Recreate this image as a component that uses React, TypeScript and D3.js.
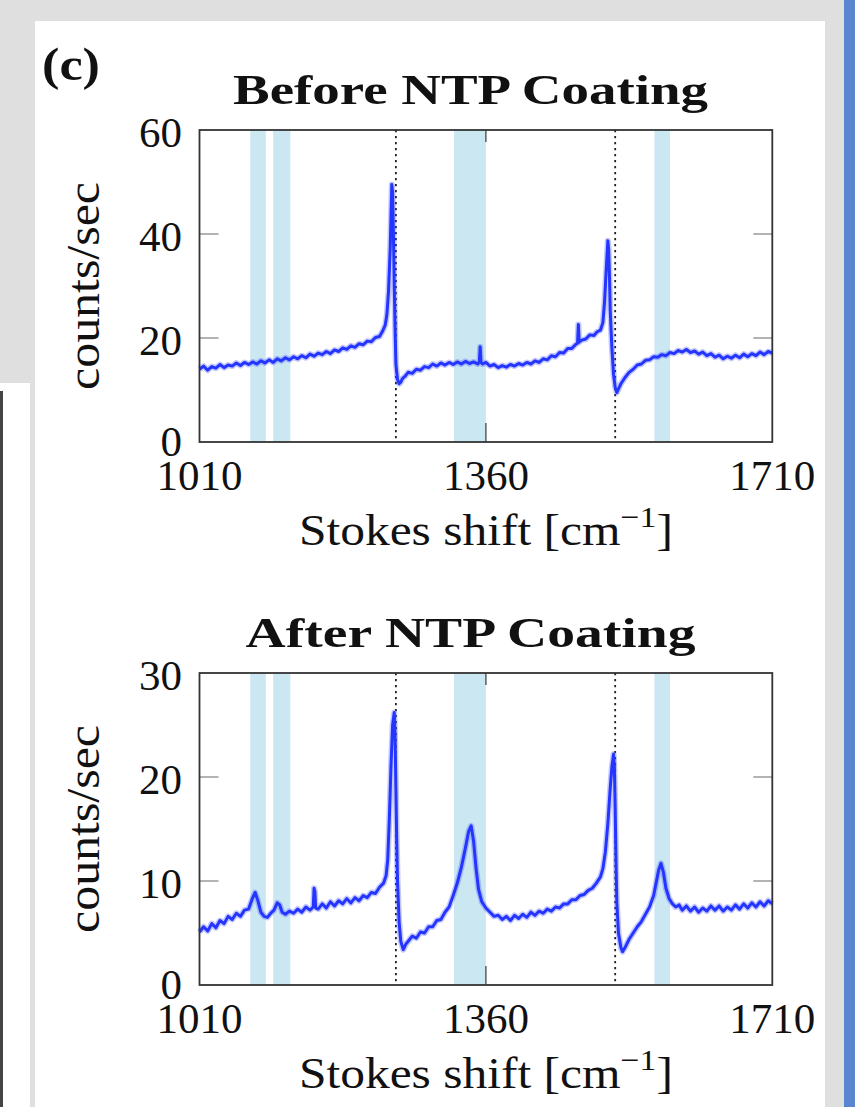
import React from 'react';
import * as d3 from 'd3';

// ---- data ----
const shiftTicks = [1010, 1360, 1710];
const beforeTicks = [0, 20, 40, 60];
const afterTicks = [0, 10, 20, 30];
const bandStarts = [1072, 1100, 1321, 1566];
const bandEnds = [1091, 1121, 1360, 1585];
const markerShifts = [1250, 1518];

const beforeShift = [
  1010, 1015, 1020, 1025, 1030, 1035, 1040, 1045, 1050, 1055, 1060, 1065, 1070, 1075, 1080, 1085, 1090, 1095,
  1100, 1105, 1110, 1115, 1120, 1125, 1130, 1135, 1140, 1145, 1150, 1155, 1160, 1165, 1170, 1175, 1180, 1185,
  1190, 1195, 1200, 1205, 1210, 1215, 1220, 1225, 1230, 1234, 1237, 1239, 1241, 1243, 1245, 1246, 1247, 1248,
  1249, 1250, 1252, 1254, 1256, 1258, 1261, 1265, 1270, 1275, 1280, 1285, 1290, 1295, 1300, 1305, 1310, 1315,
  1320, 1325, 1330, 1335, 1340, 1345, 1350, 1352, 1353, 1354, 1356, 1360, 1365, 1370, 1375, 1380, 1385, 1390,
  1395, 1400, 1405, 1410, 1415, 1420, 1425, 1430, 1435, 1440, 1445, 1450, 1455, 1460, 1465, 1470, 1472, 1473,
  1474, 1477, 1482, 1487, 1492, 1496, 1500, 1503, 1505, 1507, 1509, 1510, 1511, 1512, 1514, 1516, 1518, 1520,
  1522, 1525, 1530, 1535, 1540, 1545, 1550, 1555, 1560, 1565, 1570, 1575, 1580, 1585, 1590, 1595, 1600, 1605,
  1610, 1615, 1620, 1625, 1630, 1635, 1640, 1645, 1650, 1655, 1660, 1665, 1670, 1675, 1680, 1685, 1690, 1695,
  1700, 1705, 1710,
];
const beforeCounts = [
  14.0, 14.6, 13.8, 14.5, 14.2, 14.9, 14.3, 14.8, 14.6, 15.2, 14.7, 15.3, 14.9, 15.4, 15.0, 15.6, 15.2, 15.8,
  15.3, 16.0, 15.6, 16.2, 15.8, 16.4, 16.0, 16.6, 16.2, 16.9, 16.5, 17.1, 16.8, 17.4, 17.0, 17.7, 17.4, 18.1,
  17.8, 18.5, 18.2, 18.9, 18.7, 19.4, 19.3, 20.1, 20.3, 21.4, 22.5, 24.5, 29.0, 37.0, 49.5, 48.0, 40.0, 30.0,
  22.0, 15.0, 12.0, 11.2, 11.5, 12.2, 12.6, 13.4, 13.2, 14.0, 13.8, 14.5, 14.3, 15.0, 14.6, 15.2, 14.8, 15.3,
  14.9, 15.4, 15.0, 15.5, 15.1, 15.4, 15.0, 15.4, 18.3, 15.3, 15.0, 15.3, 14.6, 14.9, 14.3, 14.7, 14.4, 14.9,
  14.6, 15.1, 14.8, 15.3, 15.0, 15.6, 15.3, 16.0, 15.8, 16.6, 16.4, 17.2, 17.1, 18.0, 18.0, 18.8, 19.0, 22.6,
  19.2, 19.6, 19.8, 20.6, 20.5, 21.2, 21.5, 23.0, 27.0, 33.0, 38.7, 37.0, 32.0, 25.0, 18.0, 13.0, 10.5, 9.5,
  10.2, 11.2, 12.4, 13.4, 14.0, 14.8, 15.0, 15.7, 15.8, 16.4, 16.3, 16.8, 16.6, 17.2, 17.0, 17.6, 17.3, 17.8,
  17.2, 17.5, 16.9, 17.3, 16.6, 17.0, 16.3, 16.7, 16.0, 16.5, 16.1, 16.7, 16.2, 16.9, 16.4, 17.0, 16.6, 17.3,
  16.8, 17.4, 17.1,
];

const afterShift = [
  1010, 1015, 1020, 1025, 1030, 1035, 1040, 1045, 1050, 1055, 1060, 1065, 1070, 1074, 1078, 1081, 1085, 1089,
  1093, 1097, 1101, 1105, 1108, 1111, 1115, 1120, 1125, 1130, 1135, 1140, 1145, 1149, 1150, 1151, 1152, 1155,
  1160, 1165, 1170, 1175, 1180, 1185, 1190, 1195, 1200, 1205, 1210, 1215, 1220, 1225, 1230, 1235, 1238, 1240,
  1242, 1244, 1246, 1248, 1249, 1250, 1251, 1252, 1254, 1256, 1259, 1262, 1266, 1270, 1275, 1280, 1285, 1290,
  1295, 1300, 1305, 1310, 1315, 1320, 1325, 1330, 1335, 1339, 1342, 1345, 1348, 1351, 1355, 1360, 1365, 1370,
  1375, 1380, 1385, 1390, 1395, 1400, 1405, 1410, 1415, 1420, 1425, 1430, 1435, 1440, 1445, 1450, 1455, 1460,
  1465, 1470, 1475, 1480, 1485, 1490, 1495, 1500, 1503, 1506, 1509, 1512, 1514, 1516, 1517, 1518, 1519, 1520,
  1522, 1525, 1527, 1530, 1535, 1540, 1545, 1550, 1555, 1560, 1565, 1568, 1571, 1574, 1577, 1580, 1584, 1588,
  1592, 1596, 1600, 1605, 1610, 1615, 1620, 1625, 1630, 1635, 1640, 1645, 1650, 1655, 1660, 1665, 1670, 1675,
  1680, 1685, 1690, 1695, 1700, 1705, 1710,
];
const afterCounts = [
  5.1, 5.6, 5.2, 5.9, 5.5, 6.2, 5.9, 6.6, 6.3, 6.9, 6.6, 7.2, 7.3, 8.2, 8.9, 8.2, 7.0, 6.6,
  6.5, 6.9, 7.2, 7.9, 7.7, 7.0, 6.8, 7.1, 6.9, 7.3, 7.0, 7.5, 7.2, 7.5, 9.3, 9.0, 7.4, 7.3,
  7.8, 7.4, 8.0, 7.6, 8.1, 7.8, 8.3, 7.9, 8.4, 8.1, 8.6, 8.4, 8.9, 8.8, 9.4, 9.8, 10.5, 12.0,
  16.0, 21.0, 25.0, 26.2, 24.0, 19.0, 14.0, 10.0, 6.0, 4.2, 3.4, 3.9, 4.3, 4.7, 4.5, 5.1, 5.0, 5.6,
  5.6, 6.2, 6.3, 7.0, 7.5, 8.6, 9.8, 11.3, 13.2, 14.8, 15.3, 13.8, 11.2, 9.2, 8.0, 7.4, 7.0, 6.6,
  6.7, 6.3, 6.6, 6.2, 6.7, 6.4, 6.8, 6.5, 7.0, 6.7, 7.1, 6.9, 7.3, 7.1, 7.5, 7.4, 7.8, 7.8,
  8.2, 8.2, 8.6, 8.7, 9.1, 9.3, 9.8, 10.4, 11.2, 12.8, 15.5, 19.0, 21.0, 22.2, 21.0, 17.0, 12.0, 8.0,
  5.0, 3.6, 3.2, 3.6, 4.4, 5.0, 5.6, 6.1, 6.8, 7.5, 8.6, 9.8, 11.0, 11.7, 10.8, 9.3, 8.3, 7.8,
  7.5, 7.7, 7.2, 7.6, 7.1, 7.5, 7.0, 7.4, 7.1, 7.6, 7.2, 7.6, 7.1, 7.5, 7.2, 7.7, 7.3, 7.8,
  7.4, 7.9, 7.5, 8.0, 7.6, 8.1, 7.8,
];

const FONT = '"Liberation Serif", "Times New Roman", serif';
const PLOT_LEFT = 199.5;
const PLOT_RIGHT = 772.3;
const PLOT_H = 312;

type PanelProps = {
  top: number;
  title: string;
  titleLen: number;
  yMax: number;
  yTicks: number[];
  xs: number[];
  ys: number[];
};

function Panel({ top, title, titleLen, yMax, yTicks, xs, ys }: PanelProps) {
  const bottom = top + PLOT_H;
  const x = d3.scaleLinear().domain([1010, 1710]).range([PLOT_LEFT, PLOT_RIGHT]);
  const y = d3.scaleLinear().domain([0, yMax]).range([bottom, top]);
  const line = d3
    .line<number>()
    .x((_, i) => x(xs[i]))
    .y((d) => y(d));
  const path = line(ys) || '';
  const innerY = yTicks.filter((t) => t !== 0 && t !== yMax);
  const innerX = shiftTicks.filter((t) => t !== 1010 && t !== 1710);
  const cx = (PLOT_LEFT + PLOT_RIGHT) / 2;
  return (
    <g>
      <text
        x={470.5}
        y={top - 26}
        textAnchor="middle"
        fontFamily={FONT}
        fontWeight="bold"
        fontSize={43}
        textLength={titleLen}
        lengthAdjust="spacingAndGlyphs"
        fill="#111"
      >
        {title}
      </text>
      <rect x={PLOT_LEFT} y={top} width={PLOT_RIGHT - PLOT_LEFT} height={PLOT_H} fill="#fff" />
      {bandStarts.map((s, i) => (
        <rect
          key={'b' + i}
          x={x(s)}
          y={top}
          width={x(bandEnds[i]) - x(s)}
          height={PLOT_H}
          fill="#cbe7f2"
        />
      ))}
      {innerY.map((t) => (
        <g key={'yt' + t}>
          <line x1={PLOT_LEFT} x2={PLOT_LEFT + 19} y1={y(t)} y2={y(t)} stroke="#8a8a8a" strokeWidth={1.3} />
          <line x1={PLOT_RIGHT - 19} x2={PLOT_RIGHT} y1={y(t)} y2={y(t)} stroke="#8a8a8a" strokeWidth={1.3} />
        </g>
      ))}
      {innerX.map((t) => (
        <g key={'xt' + t}>
          <line x1={x(t)} x2={x(t)} y1={top} y2={top + 12} stroke="#444" strokeWidth={1.3} />
          <line x1={x(t)} x2={x(t)} y1={bottom - 19} y2={bottom} stroke="#444" strokeWidth={1.3} />
        </g>
      ))}
      {markerShifts.map((m) => (
        <line
          key={'m' + m}
          x1={x(m)}
          x2={x(m)}
          y1={top}
          y2={bottom}
          stroke="#222"
          strokeWidth={1.8}
          strokeDasharray="2.2 3.8"
        />
      ))}
      <path d={path} fill="none" stroke="#3a48ff" strokeWidth={6} strokeOpacity={0.3} strokeLinejoin="round" />
      <path d={path} fill="none" stroke="#2435ff" strokeWidth={3} strokeLinejoin="round" />
      <rect
        x={PLOT_LEFT}
        y={top}
        width={PLOT_RIGHT - PLOT_LEFT}
        height={PLOT_H}
        fill="none"
        stroke="#333"
        strokeWidth={1.8}
      />
      {yTicks.map((t) => (
        <text
          key={'yl' + t}
          x={182}
          y={y(t) + (t === 0 ? -1 : 2)}
          dy="0.35em"
          textAnchor="end"
          fontFamily={FONT}
          fontSize={43}
          fill="#111"
        >
          {t}
        </text>
      ))}
      {shiftTicks.map((t) => (
        <text
          key={'xl' + t}
          x={x(t)}
          y={bottom + 48}
          textAnchor="middle"
          fontFamily={FONT}
          fontSize={43}
          fill="#111"
        >
          {t}
        </text>
      ))}
      <text
        x={cx}
        y={bottom + 103}
        textAnchor="middle"
        fontFamily={FONT}
        fontSize={44}
        fill="#111"
        textLength={374}
        lengthAdjust="spacingAndGlyphs"
      >
        Stokes shift [cm
        <tspan fontSize={30} dy={-18}>
          −1
        </tspan>
        <tspan dy={18}>]</tspan>
      </text>
      <text
        transform={`translate(99, ${(top + bottom) / 2}) rotate(-90)`}
        textAnchor="middle"
        fontFamily={FONT}
        fontSize={46}
        fill="#111"
        textLength={208}
        lengthAdjust="spacingAndGlyphs"
      >
        counts/sec
      </text>
    </g>
  );
}

export default function App() {
  return (
    <svg
      width={855}
      height={1107}
      viewBox="0 0 855 1107"
      style={{ position: 'absolute', left: 0, top: 0, display: 'block' }}
    >
      <rect x={0} y={0} width={855} height={1107} fill="#dfdfdf" />
      <rect x={35} y={21} width={790} height={1086} fill="#ffffff" />
      <rect x={844} y={0} width={11} height={1107} fill="#5a86cf" />
      <rect x={0} y={383} width={30} height={724} fill="#ffffff" />
      <line x1={1.5} x2={1.5} y1={391} y2={1107} stroke="#444" strokeWidth={3} />
      <text
        x={42}
        y={80}
        fontFamily={FONT}
        fontWeight="bold"
        fontSize={46}
        textLength={58}
        lengthAdjust="spacingAndGlyphs"
        fill="#111"
      >
        (c)
      </text>
      <Panel
        top={130}
        title="Before NTP Coating"
        titleLen={475}
        yMax={60}
        yTicks={beforeTicks}
        xs={beforeShift}
        ys={beforeCounts}
      />
      <Panel
        top={673}
        title="After NTP Coating"
        titleLen={450}
        yMax={30}
        yTicks={afterTicks}
        xs={afterShift}
        ys={afterCounts}
      />
    </svg>
  );
}
